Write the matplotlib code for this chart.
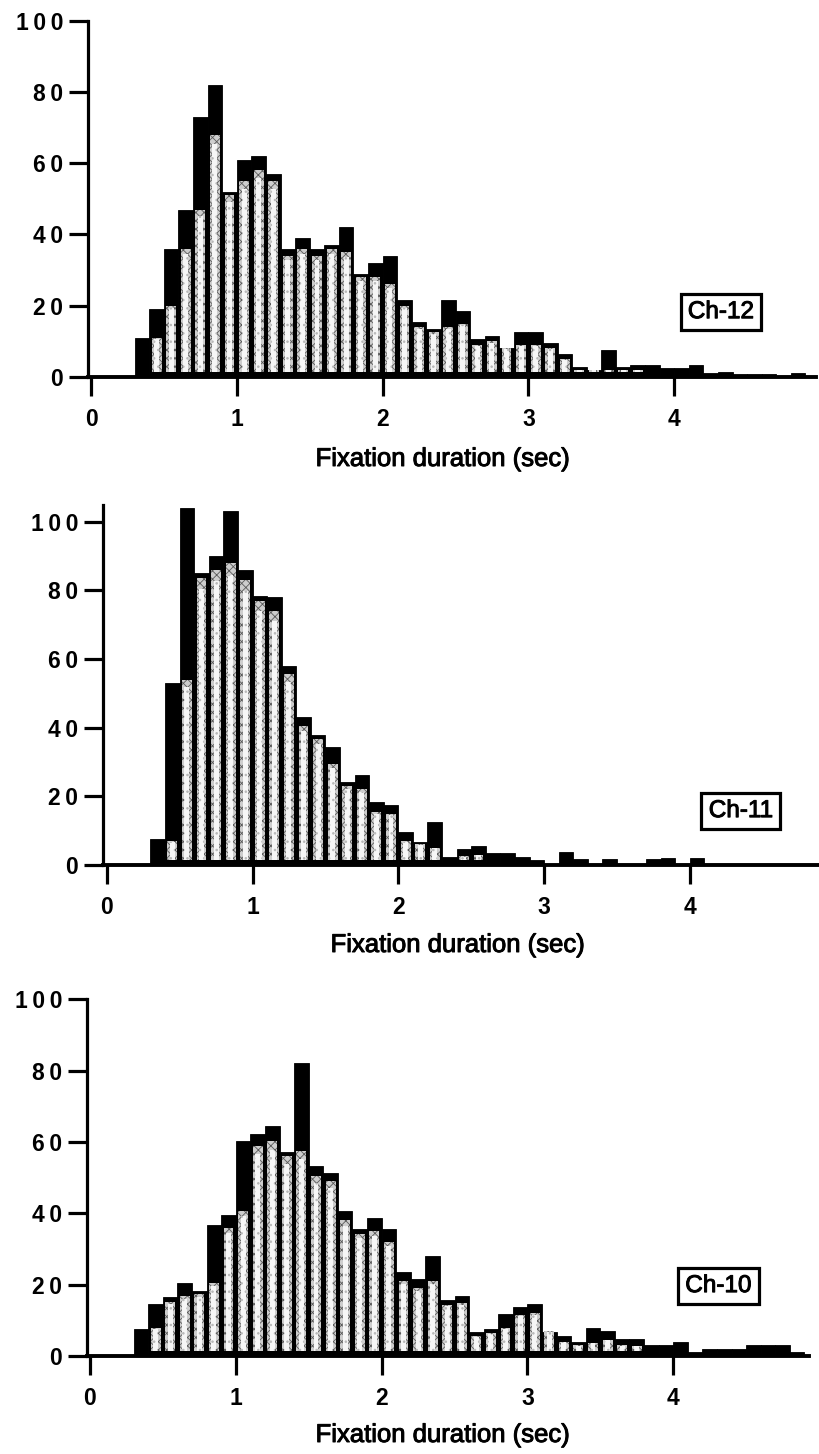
import numpy as np
import matplotlib
matplotlib.use("Agg")
import matplotlib.pyplot as plt
import matplotlib.patheffects as pe

# ---------------- data ----------------
BIN_START = 0.3
BIN_W = 0.1

ch12_total = [11, 19, 36, 47, 73, 82, 52, 61, 62, 57,
              36, 39, 36, 37, 42, 29, 32, 34, 21.5, 15.5,
              13.5, 21.5, 18.5, 10.7, 11.6, 8, 12.7, 12.7, 9.6, 6.5,
              2.8, 1.9, 7.6, 2.8, 3.3, 3.3, 2.5, 2.5, 3.5, 1.2,
              1.4, 0.8, 0.8, 0.8, 0, 1.2]
ch12_inner = [0, 11, 20, 36, 47, 68, 51, 55, 58, 55,
              34, 36, 34, 36, 35, 28, 28, 26, 20, 14,
              12.5, 14, 15, 9, 10, 8, 9, 9, 8, 5,
              2, 2, 2, 2, 2, 0, 0, 0, 0, 0,
              0, 0, 0, 0, 0, 0]

ch11_total = [7.7, 53, 104, 85, 90, 103, 86, 78.5, 78, 58,
              43, 38, 34.5, 24.3, 26.3, 18.4, 17.4, 9.5, 6.8, 12.6,
              2.4, 4.8, 5.5, 3.4, 3.4, 2.4, 1.6, 0, 3.7, 1.7,
              0, 1.7, 0, 0, 1.7, 1.9, 0, 1.9]
ch11_inner = [0, 7, 54, 83.6, 86, 88, 83, 77, 74, 55.5,
              40.6, 36.7, 29.5, 23, 22, 15.5, 15, 7, 6, 5,
              0, 2.5, 3, 0, 0, 0, 0, 0, 0, 0,
              0, 0, 0, 0, 0, 0, 0, 0]

ch10_total = [7.7, 14.6, 16.5, 20.6, 18.3, 36.6, 39.5, 60.2, 62.3, 64.4,
              57.2, 82.2, 53.2, 51.4, 40.6, 35.5, 38.6, 35.5, 23.5, 21.5,
              28, 15.6, 16.7, 6.8, 7.7, 11.8, 13.8, 14.6, 6.7, 5.7,
              3.9, 7.9, 6.9, 4.9, 4.9, 3, 3, 4, 1, 2,
              2, 2, 3, 3, 3, 1]
ch10_inner = [0, 7.9, 15, 16.7, 17.3, 20.4, 36, 40.7, 58.8, 60.2,
              56, 57.4, 50.5, 49, 38, 34.3, 35, 32, 21, 19,
              21, 14.4, 14.8, 5.6, 6.5, 7.9, 11.6, 12, 7, 4,
              3, 3.7, 4.6, 3, 2.8, 0, 0, 0, 0, 0,
              0, 0, 0, 0, 0, 0]

panel_names = ["Ch-12", "Ch-11", "Ch-10"]
x_ticks = [0, 1, 2, 3, 4]
x_tick_labels = ["0", "1", "2", "3", "4"]
y_ticks = [0, 20, 40, 60, 80, 100]
y_tick_labels = ["0", "20", "40", "60", "80", "100"]
x_label = "Fixation duration (sec)"

# ---------------- style ----------------
FAM = ["Liberation Sans", "DejaVu Sans"]
plt.rcParams["font.family"] = FAM
plt.rcParams["hatch.linewidth"] = 0.6

W, H = 819, 1454
fig = plt.figure(figsize=(W / 100, H / 100), dpi=100)
SX = 145.8  # px per second
heavy = [pe.withStroke(linewidth=0.7, foreground="black")]


def spaced(s):
    return "\u2009".join(list(s))


def make_axes(x0px, y0px, y100px, xlim, ytop):
    left = x0px + xlim[0] * SX
    right = x0px + xlim[1] * SX
    sy = (y0px - y100px) / 100.0
    top_px = y0px - ytop * sy
    ax = fig.add_axes([left / W, 1 - y0px / H, (right - left) / W, (y0px - top_px) / H])
    ax.set_xlim(*xlim)
    ax.set_ylim(0, ytop)
    return ax


def draw_panel(ax, total, inner, name, label_xy, xlabel_px):
    n = len(total)
    lefts = BIN_START + BIN_W * np.arange(n)
    centers = lefts + BIN_W / 2
    ax.bar(lefts, total, width=BIN_W, align="edge", color="black",
           edgecolor="black", linewidth=0.6, zorder=1)
    inner = np.asarray(inner, dtype=float)
    base = 1.5
    mask = inner > base
    ax.bar(centers[mask], inner[mask] - base, bottom=base, width=0.068,
           facecolor="#cdcdcd", edgecolor="#5a5a5a", hatch="xxxx",
           linewidth=0, zorder=2)
    ax.bar(centers[mask], (inner[mask] - base) * 0.96, bottom=base, width=0.034,
           facecolor="#f6f6f6", edgecolor="#b8b8b8", hatch="..",
           linewidth=0, zorder=3)

    for s in ["top", "right"]:
        ax.spines[s].set_visible(False)
    ax.spines["left"].set_linewidth(2.3)
    ax.spines["bottom"].set_linewidth(2.8)
    ax.spines["left"].set_zorder(4)
    ax.spines["bottom"].set_zorder(4)

    ax.set_xticks(x_ticks)
    ax.set_xticklabels([spaced(t) for t in x_tick_labels],
                       fontsize=16.5, fontweight="bold", family=FAM)
    ax.set_yticks(y_ticks)
    ax.set_yticklabels([spaced(t) for t in y_tick_labels],
                       fontsize=16.5, fontweight="bold", family=FAM)
    ax.tick_params(axis="y", direction="out", length=14, width=2.3, pad=4)
    ax.tick_params(axis="x", direction="out", length=14, width=2.3, pad=8)

    ax.text(label_xy[0], label_xy[1], name, ha="center", va="center",
            fontsize=17.5, family=FAM, zorder=6, path_effects=heavy,
            bbox=dict(boxstyle="square,pad=0.3", facecolor="white",
                      edgecolor="black", linewidth=2.3))

    fig.text(xlabel_px[0] / W, 1 - xlabel_px[1] / H, x_label, ha="center",
             va="center", fontsize=18.5, family=FAM, path_effects=heavy)


ax1 = make_axes(91, 377, 20.7, (-0.02, 4.97), 100)
draw_panel(ax1, ch12_total, ch12_inner, panel_names[0], (4.32, 18.2), (443, 459))

ax2 = make_axes(106.7, 865, 521.7, (-0.025, 4.88), 105)
draw_panel(ax2, ch11_total, ch11_inner, panel_names[1], (4.35, 15.7), (458, 945))

ax3 = make_axes(90, 1356, 999.3, (-0.02, 4.93), 100)
draw_panel(ax3, ch10_total, ch10_inner, panel_names[2], (4.31, 19.6), (443, 1435))

fig.savefig("out.png", dpi=100, facecolor="white")
